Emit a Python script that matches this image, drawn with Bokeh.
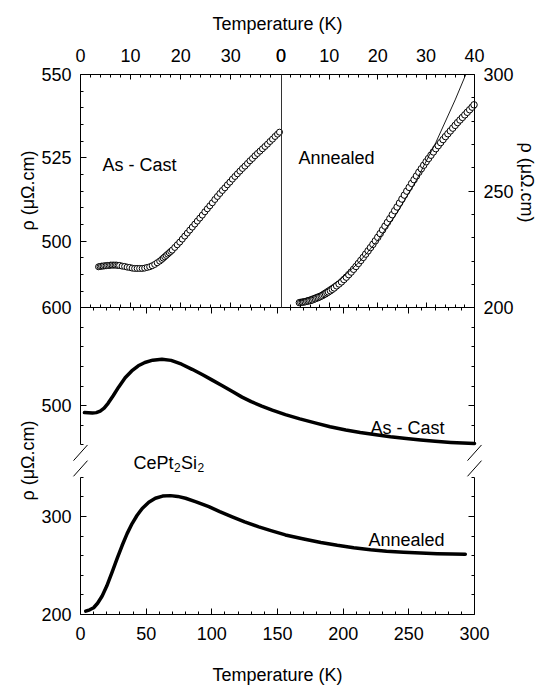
import numpy as np
from bokeh.plotting import figure
from bokeh.models import (Range1d, LinearAxis, FixedTicker, CustomJSTickFormatter,
                          Label, Arrow)
from bokeh.embed import file_html
from bokeh.resources import INLINE

# ------------------------------------------------------------------ data
# Upper-left inset: As-Cast, low temperature
ascast_low_T = [3.6, 3.9, 4.2, 4.5, 4.8, 5.1, 5.4, 5.7, 6.0, 6.3, 6.6, 6.9, 7.2, 7.5, 7.8,
                8.3, 8.8, 9.3, 9.8, 10.3, 10.8, 11.3, 11.8, 12.3, 12.8, 13.3, 13.8, 14.3,
                14.8, 15.3, 15.8, 16.2, 16.5, 16.8, 17.1, 17.4, 17.7, 18.0, 18.3, 18.8,
                19.3, 19.8, 20.3, 20.8, 21.3, 21.8, 22.3, 22.8, 23.3, 23.8, 24.3, 24.8,
                25.3, 25.8, 26.3, 26.8, 27.3, 27.8, 28.3, 28.8, 29.3, 29.8, 30.3, 30.8,
                31.3, 31.8, 32.3, 32.8, 33.3, 33.8, 34.3, 34.8, 35.3, 35.8, 36.3, 36.8,
                37.3, 37.8, 38.3, 38.8, 39.3, 39.7]
ascast_low_rho = [492.3, 492.4, 492.5, 492.5, 492.6, 492.6, 492.7, 492.7, 492.8, 492.8,
                  492.8, 492.8, 492.8, 492.7, 492.7, 492.5, 492.4, 492.2, 492.1, 491.9,
                  491.8, 491.8, 491.8, 491.8, 491.9, 492.1, 492.3, 492.6, 493.0, 493.5,
                  494.0, 494.5, 494.9, 495.3, 495.7, 496.1, 496.5, 496.9, 497.3, 498.1,
                  498.9, 499.7, 500.6, 501.5, 502.4, 503.3, 504.2, 505.1, 506.0, 506.9,
                  507.8, 508.8, 509.7, 510.6, 511.5, 512.5, 513.4, 514.3, 515.2, 516.0,
                  516.9, 517.7, 518.6, 519.4, 520.2, 521.0, 521.8, 522.5, 523.3, 524.1,
                  524.8, 525.6, 526.3, 527.0, 527.7, 528.4, 529.1, 529.9, 530.6, 531.4,
                  532.1, 532.7]

# Upper-right inset: Annealed, low temperature
annealed_low_T = [3.8, 4.1, 4.4, 4.7, 5.0, 5.3, 5.6, 5.9, 6.2, 6.5, 6.8, 7.1, 7.4, 7.7, 8.0,
                  8.3, 8.6, 8.9, 9.2, 9.5, 9.8, 10.2, 10.6, 11.0, 11.5, 12.0, 12.5, 13.0,
                  13.5, 14.0, 14.5, 15.0, 15.5, 16.0, 16.5, 17.0, 17.5, 18.0, 18.5, 19.0,
                  19.5, 20.0, 20.5, 21.0, 21.5, 22.0, 22.5, 23.0, 23.5, 24.0, 24.5, 25.0,
                  25.5, 26.0, 26.5, 27.0, 27.5, 28.0, 28.5, 29.0, 29.5, 30.0, 30.5, 31.0,
                  31.5, 32.0, 32.5, 33.0, 33.5, 34.0, 34.5, 35.0, 35.5, 36.0, 36.5, 37.0,
                  37.5, 38.0, 38.5, 39.0, 39.5, 39.9]
annealed_low_rho = [202.2, 202.3, 202.4, 202.5, 202.6, 202.8, 202.9, 203.1, 203.2, 203.4,
                    203.7, 203.9, 204.2, 204.4, 204.7, 205.0, 205.3, 205.7, 206.0, 206.4,
                    206.8, 207.3, 207.9, 208.5, 209.4, 210.2, 211.1, 212.1, 213.1, 214.2,
                    215.3, 216.5, 217.7, 219.0, 220.3, 221.6, 223.0, 224.4, 225.8, 227.2,
                    228.7, 230.2, 231.8, 233.4, 235.0, 236.6, 238.2, 239.9, 241.6, 243.2,
                    244.9, 246.6, 248.3, 250.0, 251.6, 253.3, 254.9, 256.5, 258.1, 259.6,
                    261.1, 262.6, 264.0, 265.4, 266.8, 268.2, 269.5, 270.8, 272.1, 273.4,
                    274.6, 275.8, 277.0, 278.2, 279.4, 280.5, 281.6, 282.7, 283.8, 284.9,
                    286.0, 287.0]

# thin fitted curve in the annealed inset
annealed_fit_T = [3.8, 8, 12, 16, 20, 24, 28, 32, 36, 38.2]
annealed_fit_rho = [202.9, 206.3, 211.7, 219.2, 228.9, 240.7, 254.7, 270.8, 289.1, 300.0]

# main panel, 0-300 K
ascast_T = [3, 6, 9, 12, 15, 18, 21, 25, 29, 34, 39, 44, 49, 55, 62, 69, 77, 85, 93, 100,
            108, 116, 123, 130, 138, 146, 156, 167, 180, 190, 202, 213, 225, 236, 248,
            259, 270, 282, 291, 300]
ascast_rho = [493.0, 492.8, 492.5, 493.0, 494.5, 497.5, 502.5, 510.5, 519.0, 528.5, 535.5,
              540.8, 544.2, 546.5, 547.5, 546.3, 542.4, 537.2, 531.6, 526.4, 520.5, 514.2,
              508.8, 504.2, 499.7, 495.6, 491.0, 486.6, 482.0, 478.6, 475.3, 472.7, 470.4,
              468.4, 466.6, 465.0, 463.7, 462.6, 462.0, 461.6]
annealed_T = [4, 7, 10, 13, 16.5, 20, 24, 28, 31.7, 35.5, 39.3, 43, 47, 52, 57, 62.5, 68.5,
              74, 80, 88, 97.7, 106, 115.5, 125, 135.8, 145, 156, 170, 183, 195.5, 208,
              220.8, 233, 246, 259, 271.6, 283, 293]
annealed_rho = [203.4, 204.8, 206.9, 211.5, 218.9, 229.0, 243.0, 257.5, 270.4, 282.5, 292.8,
                301.0, 308.2, 314.5, 318.6, 320.8, 321.3, 320.5, 318.6, 315.0, 310.0, 305.0,
                299.7, 294.5, 289.4, 285.6, 281.2, 277.0, 273.5, 270.6, 268.1, 266.0, 264.6,
                263.5, 262.7, 262.1, 261.7, 261.5]

# tick values
main_T_ticks = [0, 50, 100, 150, 200, 250, 300]
inset_T_ticks = [0, 10, 20, 30, 40]
ascast_inset_ticks = [500, 525, 550]
annealed_inset_ticks = [200, 250, 300]
main_rho_low_ticks = [200, 300]
main_rho_high_ticks = [500, 600]

# ------------------------------------------------------------------ layout
FONT = "Liberation Sans"
FS = "18px"
W, H = 536, 686                      # canvas (the whole canvas is the data frame)
PL, PT, PW, PH = 80, 74, 394, 540    # drawn plot box inside the canvas
PY_BOT = PT + PH

Y0, Y1 = 200.0, 200.0 + PH / 0.98    # virtual y of the plot box (both panels)
K = PH / (Y1 - Y0)                   # px per virtual unit
PB = 513.0                           # boundary between the two panels
SHIFT = 87.0                         # shift of the upper broken segment
GAP_LO, GAP_HI = 340.0, 373.0        # axis break
S = 0.965                            # compression of the right inset
XT = 40 + 40 * S
PY_PB = PY_BOT - (PB - Y0) * K

ac_lo, ac_hi = 480.0, 550.0
an_lo, an_hi = 200.0, 300.0


def span_x(v0, v1, p0, p1):
    ppu = (p1 - p0) / (v1 - v0)
    return Range1d(v0 - p0 / ppu, v1 + (W - p1) / ppu)


def span_y(vb, vt, pb, pt):
    ppu = (pb - pt) / (vt - vb)
    return Range1d(vb - (H - pb) / ppu, vt + pt / ppu)


def dx(px):
    return (px - PL) * 300.0 / PW


def dy(py):
    return Y0 + (PY_BOT - py) / K


p = figure(width=W, height=H, min_border=0,
           x_range=span_x(0, 300, PL, PL + PW), y_range=span_y(Y0, Y1, PY_BOT, PT),
           x_axis_location=None, y_axis_location=None,
           toolbar_location=None, output_backend="svg",
           outline_line_color=None, background_fill_color="white",
           border_fill_color="white")
p.grid.visible = False
p.extra_x_ranges = {"top": span_x(0, XT, PL, PL + PW)}
p.extra_y_ranges = {"ac": span_y(ac_lo, ac_hi, PY_PB, PT),
                    "an": span_y(an_lo, an_hi, PY_PB, PT)}

blank = CustomJSTickFormatter(code="return '';")


def mk_axis(major, minor, fmt=None, tin=6, mtin=3, standoff=9, **kw):
    ax = LinearAxis(ticker=FixedTicker(ticks=list(major), minor_ticks=list(minor)), **kw)
    ax.axis_line_color = "black"
    ax.axis_line_width = 1
    ax.major_tick_in = tin
    ax.major_tick_out = 0
    ax.minor_tick_in = mtin
    ax.minor_tick_out = 0
    ax.major_tick_line_color = "black"
    ax.minor_tick_line_color = "black"
    ax.major_label_text_font = FONT
    ax.major_label_text_font_size = FS
    ax.major_label_text_color = "black"
    ax.major_label_standoff = standoff
    if fmt is not None:
        ax.formatter = fmt
    return ax


# --- top axis of the insets (two 0-40 K scales side by side)
top_major = [t for t in inset_T_ticks] + [40 + S * t for t in inset_T_ticks]
top_minor = ([t for t in range(2, 40, 2) if t % 10]
             + [40 + S * t for t in range(2, 40, 2) if t % 10])
top_fmt = CustomJSTickFormatter(args={"s": S},
                                code="if (tick < 39.99) { return tick.toFixed(0); } "
                                     "return ((tick - 40) / s).toFixed(0);")
p.add_layout(mk_axis(top_major, top_minor, top_fmt, tin=5, standoff=13, x_range_name="top",
                     fixed_location=Y1, bounds=(0, XT)), "above")

# --- bottom axis of the main panel
main_minor = [t for t in range(10, 300, 10) if t % 50]
p.add_layout(mk_axis(main_T_ticks, main_minor, standoff=12, fixed_location=Y0,
                     bounds=(0, 300)), "below")

# --- boundary between the panels (ticks on both sides)
p.add_layout(mk_axis(top_major, top_minor, blank, tin=5, x_range_name="top",
                     fixed_location=PB, bounds=(0, XT)), "below")
p.add_layout(mk_axis(main_T_ticks, main_minor, blank, fixed_location=PB,
                     bounds=(0, 300)), "above")

# --- left axes
ac_minor = [v for v in range(480, 551, 5) if v not in ascast_inset_ticks]
p.add_layout(mk_axis(ascast_inset_ticks, ac_minor, y_range_name="ac",
                     bounds=(ac_lo, ac_hi), fixed_location=0), "left")

hi_major = [v - SHIFT for v in main_rho_high_ticks]
hi_minor = [v - SHIFT for v in range(460, 600, 20) if v not in main_rho_high_ticks]
lo_minor = [v for v in range(220, 341, 20) if v not in main_rho_low_ticks]
hi_fmt = CustomJSTickFormatter(args={"d": SHIFT}, code="return (tick + d).toFixed(0);")
p.add_layout(mk_axis(hi_major, hi_minor, hi_fmt, bounds=(GAP_HI, PB), fixed_location=0),
             "left")
p.add_layout(mk_axis(main_rho_low_ticks, lo_minor, bounds=(Y0, GAP_LO), fixed_location=0),
             "left")

# --- right axes
an_minor = [v for v in range(200, 301, 10) if v not in annealed_inset_ticks]
p.add_layout(mk_axis(annealed_inset_ticks, an_minor, y_range_name="an",
                     bounds=(an_lo, an_hi), fixed_location=300), "right")
p.add_layout(mk_axis(hi_major, hi_minor, blank, bounds=(GAP_HI, PB), fixed_location=300),
             "right")
p.add_layout(mk_axis(main_rho_low_ticks, lo_minor, blank, bounds=(Y0, GAP_LO),
                     fixed_location=300), "right")

# --- divider between the two insets
p.add_layout(LinearAxis(ticker=FixedTicker(ticks=[], minor_ticks=[]), x_range_name="top",
                        y_range_name="an", bounds=(an_lo, an_hi), fixed_location=40,
                        axis_line_color="#333333", axis_line_width=1,
                        major_label_text_font_size="0px"), "left")

# --- axis-break slashes
hw = 7 * 300.0 / PW
for xc in (0, 300):
    for (ya, yb) in ((GAP_HI - 16, GAP_HI), (GAP_LO + 1, GAP_LO + 17)):
        p.add_layout(Arrow(start=None, end=None, x_start=xc - hw, y_start=ya,
                           x_end=xc + hw, y_end=yb, line_color="black", line_width=1))

# ------------------------------------------------------------------ data glyphs
p.scatter(np.array(ascast_low_T), np.array(ascast_low_rho), marker="circle", size=6,
          fill_color="white", line_color="black", line_width=1,
          x_range_name="top", y_range_name="ac")

p.scatter(40 + S * np.array(annealed_low_T), np.array(annealed_low_rho), marker="circle",
          size=6.5, fill_color="white", line_color="black", line_width=1,
          x_range_name="top", y_range_name="an")
p.line(40 + S * np.array(annealed_fit_T), np.array(annealed_fit_rho), line_color="black",
       line_width=0.9, x_range_name="top", y_range_name="an")

p.line(np.array(ascast_T), np.array(ascast_rho) - SHIFT, line_color="black",
       line_width=3.5, line_join="round", line_cap="round")
p.line(np.array(annealed_T), np.array(annealed_rho), line_color="black",
       line_width=3.5, line_join="round", line_cap="round")

# ------------------------------------------------------------------ texts


def lab(text, x, y, size=FS, **kw):
    kw.setdefault("text_align", "left")
    kw.setdefault("text_baseline", "alphabetic")
    p.add_layout(Label(x=x, y=y, text=text, text_font=FONT, text_font_size=size,
                       text_color="black", **kw))


lab("Temperature (K)", 150, dy(23.5), text_align="center")
lab("Temperature (K)", 150, dy(674), text_align="center")

RHO = "ρ (μΩ.cm)"
lab(RHO, dx(27), dy(190), angle=np.pi / 2, text_align="center", text_baseline="middle")
lab(RHO, dx(27), dy(460), angle=np.pi / 2, text_align="center", text_baseline="middle")
lab(RHO, dx(526), dy(182), angle=-np.pi / 2, text_align="center", text_baseline="middle")

lab("As - Cast", 4.4, 522.7, x_range_name="top", y_range_name="ac")
lab("Annealed", 43.5, 264.0, x_range_name="top", y_range_name="an")
lab("As - Cast", 220.8, 477.1 - SHIFT)
lab("Annealed", 219.3, 276.5)

cx, cy = 40.4, dy(462)
lab("CePt", cx, cy)
lab("2", cx, cy, size="12px", x_offset=40.5, y_offset=-5)
lab("Si", cx, cy, x_offset=47.5)
lab("2", cx, cy, size="12px", x_offset=64, y_offset=-5)

open("out.html", "w").write(file_html(p, INLINE))
